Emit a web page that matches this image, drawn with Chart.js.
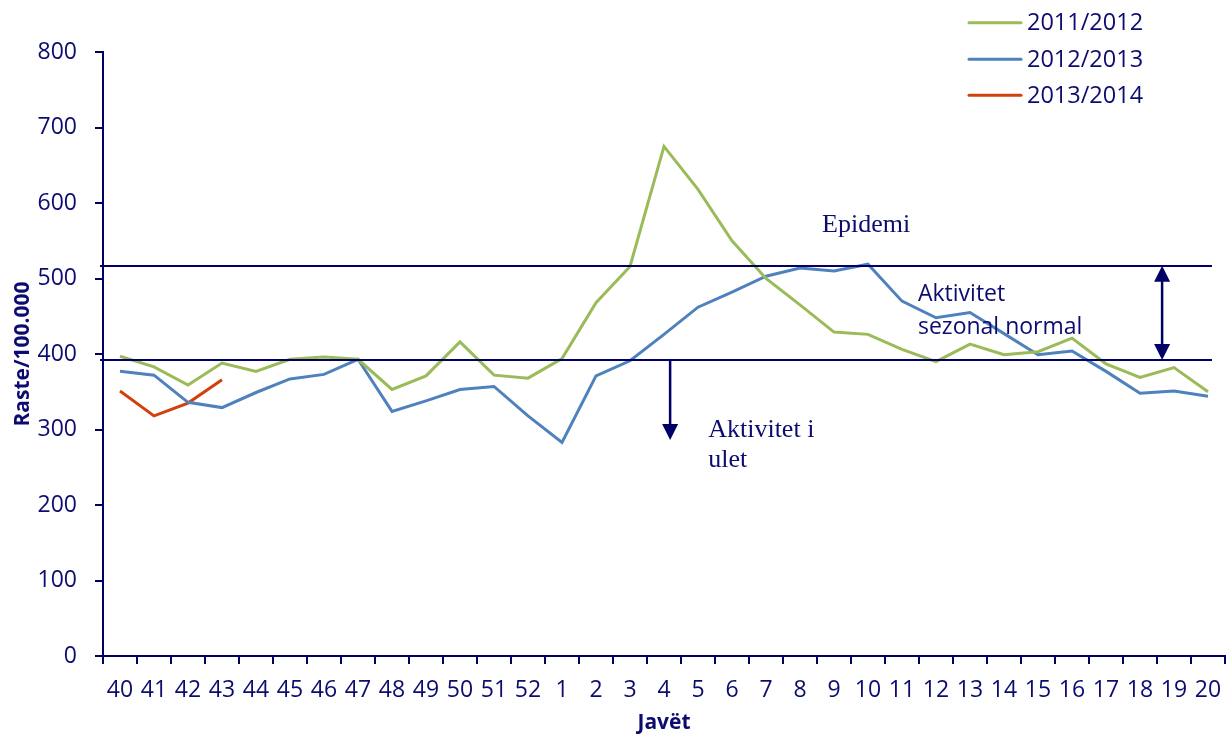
<!DOCTYPE html>
<html>
<head>
<meta charset="utf-8">
<script src="https://cdn.jsdelivr.net/npm/chart.js@4/dist/chart.umd.min.js"></script>
<style>
  html, body { margin: 0; padding: 0; background: #ffffff; }
  #wrap { width: 1227px; height: 736px; }
</style>
</head>
<body>
<div id="wrap"><canvas id="c" width="1227" height="736"></canvas></div>
<script>
const weeks = ['40','41','42','43','44','45','46','47','48','49','50','51','52',
  '1','2','3','4','5','6','7','8','9','10','11','12','13','14','15','16','17','18','19','20'];

const season1112 = [397,383,359,388,377,393,396,393,353,371,416,372,368,
  394,468,516,675,618,550,500,465,429,426,406,390,413,399,403,421,387,369,382,350];

const season1213 = [377,372,336,329,349,367,373,393,324,338,353,357,318,
  283,371,391,426,462,482,503,514,510,519,470,448,455,427,399,404,377,348,351,344];

const season1314 = [351,318,335,366];

const seriesLabels = ['2011/2012','2012/2013','2013/2014'];
const seriesColors = ['#9bbb59','#4f81bd','#d2400e'];

const epidemicThreshold = 517;
const seasonalThreshold = 392;

const navy = '#000066';
const textNavy = '#0c0c70';
const sans = '"Open Sans", "Noto Sans", sans-serif';
const serif = '"Liberation Serif", "DejaVu Serif", serif';

function drawArrowHead(ctx, x, y, dir) {
  ctx.beginPath();
  ctx.moveTo(x, y);
  ctx.lineTo(x - 8, y - dir * 16);
  ctx.lineTo(x + 8, y - dir * 16);
  ctx.closePath();
  ctx.fill();
}

const annotationPlugin = {
  id: 'annotations',
  afterDatasetsDraw(chart) {
    const ctx = chart.ctx;
    const xs = chart.scales.x, ys = chart.scales.y;
    const area = chart.chartArea;
    ctx.save();
    ctx.strokeStyle = navy;
    ctx.fillStyle = navy;
    ctx.lineWidth = 2;
    [epidemicThreshold, seasonalThreshold].forEach(v => {
      const y = Math.round(ys.getPixelForValue(v));
      ctx.beginPath();
      ctx.moveTo(area.left - 3, y);
      ctx.lineTo(xs.getPixelForValue(32) + 4, y);
      ctx.stroke();
    });
    const ax = xs.getPixelForValue(16.18);
    const ay0 = ys.getPixelForValue(seasonalThreshold);
    const ay1 = ys.getPixelForValue(286);
    ctx.lineWidth = 2.5;
    ctx.beginPath();
    ctx.moveTo(ax, ay0);
    ctx.lineTo(ax, ay1 - 10);
    ctx.stroke();
    drawArrowHead(ctx, ax, ay1, 1);
    const bx = xs.getPixelForValue(30.65);
    const by0 = ys.getPixelForValue(epidemicThreshold);
    const by1 = ys.getPixelForValue(seasonalThreshold);
    ctx.beginPath();
    ctx.moveTo(bx, by0 + 10);
    ctx.lineTo(bx, by1 - 10);
    ctx.stroke();
    drawArrowHead(ctx, bx, by0, -1);
    drawArrowHead(ctx, bx, by1, 1);
    ctx.fillStyle = textNavy;
    ctx.textBaseline = 'alphabetic';
    ctx.textAlign = 'left';
    ctx.font = '26px ' + serif;
    ctx.fillText('Epidemi', xs.getPixelForValue(20.65), ys.getPixelForValue(562));
    ctx.fillText('Aktivitet i', xs.getPixelForValue(17.3), ys.getPixelForValue(290));
    ctx.fillText('ulet', xs.getPixelForValue(17.3), ys.getPixelForValue(250));
    ctx.font = '23px ' + sans;
    ctx.fillText('Aktivitet', xs.getPixelForValue(23.47), ys.getPixelForValue(470));
    ctx.fillText('sezonal normal', xs.getPixelForValue(23.47), ys.getPixelForValue(427));
    ctx.restore();
  }
};

const legendPlugin = {
  id: 'customLegend',
  afterDraw(chart) {
    const ctx = chart.ctx;
    ctx.save();
    const rows = [22.7, 59.3, 95.3];
    chart.data.datasets.forEach((ds, i) => {
      const y = rows[i];
      ctx.strokeStyle = ds.borderColor;
      ctx.lineWidth = 3;
      ctx.lineCap = 'round';
      ctx.beginPath();
      ctx.moveTo(969, y);
      ctx.lineTo(1021, y);
      ctx.stroke();
      ctx.fillStyle = textNavy;
      ctx.font = '23.5px ' + sans;
      ctx.textBaseline = 'middle';
      ctx.textAlign = 'left';
      ctx.fillText(ds.label, 1027, y + 1);
    });
    ctx.restore();
  }
};

new Chart(document.getElementById('c'), {
  type: 'line',
  data: {
    labels: weeks,
    datasets: [
      { label: seriesLabels[0], data: season1112, borderColor: seriesColors[0] },
      { label: seriesLabels[1], data: season1213, borderColor: seriesColors[1] },
      { label: seriesLabels[2], data: season1314, borderColor: seriesColors[2] }
    ].map(d => Object.assign(d, {
      borderWidth: 3, pointRadius: 0, pointHoverRadius: 0, tension: 0, fill: false,
      borderJoinStyle: 'miter'
    }))
  },
  options: {
    responsive: false,
    animation: false,
    devicePixelRatio: 1,
    layout: { padding: { top: 52, right: 2, left: 10, bottom: 0 } },
    plugins: {
      legend: { display: false },
      tooltip: { enabled: false }
    },
    scales: {
      x: {
        type: 'category',
        offset: true,
        grid: { offset: true, drawOnChartArea: false, drawTicks: true, tickLength: 8, color: navy, lineWidth: 2 },
        border: { display: true, color: navy, width: 2 },
        ticks: { color: textNavy, font: { family: sans, size: 23 }, padding: 13, maxRotation: 0, autoSkip: false },
        title: { display: true, text: 'Javët', color: textNavy, font: { family: sans, size: 21, weight: 'bold' }, padding: { top: 0, bottom: 0 } },
        afterFit(scale) { scale.height = 80; scale.paddingLeft = 0; scale.paddingRight = 0; }
      },
      y: {
        min: 0, max: 800,
        ticks: { stepSize: 100, color: textNavy, font: { family: sans, size: 23 }, padding: 18 },
        grid: { drawOnChartArea: false, drawTicks: true, tickLength: 8, color: navy, lineWidth: 2 },
        border: { display: true, color: navy, width: 2 },
        title: { display: true, text: 'Raste/100.000', color: textNavy, font: { family: sans, size: 21, weight: 'bold' }, padding: { top: 0, bottom: 0 } },
        afterFit(scale) { scale.width = 93; scale.paddingTop = 0; scale.paddingBottom = 0; }
      }
    }
  },
  plugins: [annotationPlugin, legendPlugin]
});
</script>
</body>
</html>
